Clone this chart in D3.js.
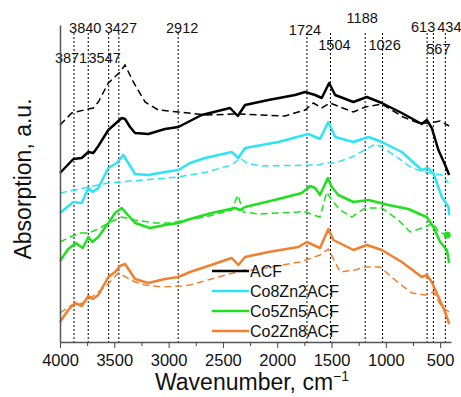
<!DOCTYPE html>
<html>
<head>
<meta charset="utf-8">
<script src="https://cdn.jsdelivr.net/npm/d3@7"></script>
<style>
  html, body { margin: 0; padding: 0; background: #fff; }
  svg { display: block; font-family: Arial, 'Liberation Sans', sans-serif; }
</style>
</head>
<body>
<svg id="chart" width="461" height="397"></svg>
<script>
// series: [wavenumber, absorption a.u.] (solid = sample, dashed = second spectrum)
const seriesNames = ['ACF', 'Co8Zn2ACF', 'Co5Zn5ACF', 'Co2Zn8ACF'];

const acfSolid = [[4000,1.69],[3877,1.83],[3800,1.84],[3739,1.90],[3693,1.89],[3647,1.96],[3555,2.12],[3493,2.18],
  [3432,2.24],[3401,2.23],[3355,2.15],[3309,2.09],[3187,2.08],[3033,2.13],[2910,2.15],[2803,2.21],[2695,2.27],
  [2434,2.34],[2363,2.26],[2296,2.37],[2081,2.42],[1836,2.47],[1743,2.50],[1651,2.47],[1590,2.44],[1522,2.59],
  [1467,2.47],[1299,2.40],[1175,2.45],[1037,2.39],[853,2.29],[669,2.18],[623,2.22],[577,2.14],[516,1.92],
  [454,1.77],[417,1.67]];
const acfDashed = [[4000,2.17],[3892,2.29],[3739,2.33],[3693,2.34],[3647,2.40],[3555,2.59],[3447,2.70],[3401,2.77],
  [3325,2.60],[3217,2.40],[3095,2.32],[2910,2.30],[2649,2.27],[2358,2.28],[1928,2.26],[1743,2.32],[1667,2.39],
  [1590,2.34],[1513,2.39],[1421,2.35],[1299,2.30],[1191,2.35],[1037,2.38],[841,2.25],[700,2.19],[608,2.19],
  [500,2.21],[417,2.16]];

const co8Solid = [[4000,1.29],[3877,1.40],[3800,1.39],[3739,1.54],[3699,1.50],[3647,1.54],[3555,1.74],[3478,1.79],
  [3417,1.87],[3309,1.68],[3187,1.67],[3033,1.70],[2910,1.72],[2803,1.79],[2664,1.84],[2419,1.90],[2358,1.84],
  [2296,1.94],[1989,2.00],[1713,2.08],[1606,2.03],[1529,2.20],[1467,2.05],[1299,2.00],[1160,2.05],[1037,2.00],
  [853,1.90],[669,1.72],[613,1.74],[562,1.69],[485,1.45],[423,1.35],[417,1.27]];
const co8Dashed = [[4000,1.49],[3862,1.52],[3739,1.55],[3555,1.59],[3340,1.61],[2910,1.65],[2649,1.70],[2419,1.77],
  [2342,1.84],[2280,1.79],[2158,1.76],[1621,1.77],[1559,1.79],[1467,1.79],[1313,1.85],[1191,1.92],[1099,1.98],
  [1037,1.95],[899,1.85],[761,1.74],[638,1.70],[485,1.67],[423,1.59]];

const co5Solid = [[4000,0.81],[3924,0.93],[3855,0.99],[3791,0.94],[3739,1.05],[3702,1.00],[3647,1.05],[3555,1.19],
  [3493,1.29],[3432,1.34],[3309,1.19],[3171,1.14],[3033,1.17],[2910,1.19],[2803,1.23],[2603,1.29],[2388,1.34],
  [2342,1.32],[2296,1.35],[1989,1.43],[1774,1.49],[1697,1.56],[1651,1.54],[1606,1.47],[1534,1.64],[1498,1.55],
  [1437,1.47],[1299,1.40],[1160,1.42],[976,1.37],[792,1.33],[669,1.27],[623,1.25],[562,1.15],[500,1.00],
  [438,0.92],[417,0.79]];
const co5Dashed = [[4000,1.00],[3908,1.05],[3816,1.09],[3739,1.09],[3647,1.13],[3555,1.19],[3432,1.25],[3309,1.22],
  [3125,1.19],[2971,1.19],[2803,1.23],[2664,1.25],[2419,1.32],[2363,1.47],[2312,1.30],[2174,1.28],[1805,1.30],
  [1759,1.31],[1667,1.27],[1606,1.25],[1544,1.50],[1498,1.42],[1421,1.32],[1313,1.25],[1191,1.34],[1037,1.34],
  [884,1.22],[776,1.10],[638,1.15],[562,1.19],[516,1.10],[435,1.07]];

const co2Solid = [[4000,0.20],[3924,0.32],[3862,0.39],[3800,0.36],[3739,0.46],[3699,0.43],[3647,0.47],[3555,0.65],
  [3493,0.70],[3447,0.76],[3401,0.78],[3309,0.63],[3187,0.59],[3033,0.63],[2910,0.65],[2803,0.70],[2664,0.75],
  [2419,0.84],[2358,0.77],[2296,0.85],[2081,0.90],[1805,0.95],[1728,1.00],[1606,0.94],[1529,1.13],[1483,1.02],
  [1299,0.92],[1175,0.97],[1037,0.92],[853,0.80],[669,0.65],[623,0.67],[577,0.60],[516,0.45],[454,0.30],
  [417,0.18]];
const co2Dashed = [[4000,0.29],[3892,0.37],[3785,0.39],[3708,0.45],[3586,0.55],[3463,0.69],[3309,0.60],[3217,0.57],
  [3063,0.55],[2879,0.56],[2803,0.57],[2542,0.65],[2296,0.72],[2220,0.72],[1790,0.80],[1606,0.87],[1530,0.93],
  [1421,0.70],[1359,0.71],[1283,0.72],[1191,0.75],[1053,0.75],[915,0.62],[761,0.49],[638,0.47],[562,0.50],
  [485,0.35],[417,0.30]];

// stray marker on the Co5Zn5 dashed trace
const co5Marker = [435, 1.07];

// marked bands
const peakLabels = ['3871', '3840', '3547', '3427', '2912', '1724', '1504', '1188', '1026', '613', '567', '434'];
const peakLines = [3871, 3740, 3552, 3458, 2912, 1726, 1510, 1190, 1030, 620, 562, 452];

const majorTicks = [4000, 3500, 3000, 2500, 2000, 1500, 1000, 500];
const minorTicks = [3750, 3250, 2750, 2250, 1750, 1250, 750];

// layout
const colors = ['#000000', '#2de4f4', '#1fe01f', '#f08030'];
const solids = [acfSolid, co8Solid, co5Solid, co2Solid];
const dashes = [acfDashed, co8Dashed, co5Dashed, co2Dashed];
// label rows (baseline y) and small x nudges
const labelBaseline = [63, 33, 63, 33, 33, 35, 50, 23, 50, 32, 54, 32];
const labelNudge = [-3, -3, -4, 2, 4, -2, 4, -3, 2, -4, 5, 4];

const svg = d3.select('#chart');
const plotLeft = 60, plotRight = 451, plotTop = 25, plotBottom = 342;

const x = d3.scaleLinear().domain([4000, 400]).range([plotLeft, plotRight]);
const y = d3.scaleLinear().domain([0, 3.17]).range([plotBottom, plotTop]);

// dotted band lines
svg.append('g')
  .selectAll('line')
  .data(peakLines)
  .enter()
  .append('line')
  .attr('x1', d => x(d)).attr('x2', d => x(d))
  .attr('y1', 33).attr('y2', plotBottom)
  .attr('stroke', '#000')
  .attr('stroke-width', 1)
  .attr('stroke-dasharray', '2,2');

const line = d3.line()
  .x(d => x(d[0]))
  .y(d => y(d[1]));

// dashed traces under, solid on top
svg.append('g')
  .selectAll('path')
  .data(dashes)
  .enter()
  .append('path')
  .attr('d', line)
  .attr('fill', 'none')
  .attr('stroke', (d, i) => colors[i])
  .attr('stroke-width', 1.5)
  .attr('stroke-dasharray', '7,4');

svg.append('g')
  .selectAll('path')
  .data(solids)
  .enter()
  .append('path')
  .attr('d', line)
  .attr('fill', 'none')
  .attr('stroke', (d, i) => colors[i])
  .attr('stroke-width', 2.5)
  .attr('stroke-linejoin', 'round');

svg.append('circle')
  .attr('cx', x(co5Marker[0]))
  .attr('cy', y(co5Marker[1]))
  .attr('r', 3.5)
  .attr('fill', colors[2]);

// peak labels
svg.append('g')
  .selectAll('text')
  .data(peakLabels)
  .enter()
  .append('text')
  .attr('x', (d, i) => x(peakLines[i]) + labelNudge[i])
  .attr('y', (d, i) => labelBaseline[i])
  .attr('text-anchor', 'middle')
  .style('font-size', '14.5px')
  .attr('fill', '#111')
  .text(d => d);

// axes
const xAxis = svg.append('g')
  .attr('transform', 'translate(0,' + plotBottom + ')')
  .call(d3.axisBottom(x).tickValues(majorTicks).tickFormat(d3.format('d'))
    .tickSize(6).tickSizeOuter(0).tickPadding(6));
xAxis.selectAll('text').style('font-size', '16.5px').attr('fill', '#111');

const xMinor = svg.append('g')
  .attr('transform', 'translate(0,' + plotBottom + ')')
  .call(d3.axisBottom(x).tickValues(minorTicks).tickSize(4).tickSizeOuter(0).tickFormat(''));
xMinor.select('.domain').remove();

svg.append('g')
  .attr('transform', 'translate(' + plotLeft + ',0)')
  .call(d3.axisLeft(y).tickValues([]).tickSizeOuter(0));

svg.selectAll('.domain').attr('stroke', '#555').attr('stroke-width', 1.5);
svg.selectAll('.tick line').attr('stroke', '#444');

// axis titles
const xTitle = svg.append('text')
  .attr('x', 252)
  .attr('y', 390)
  .attr('text-anchor', 'middle')
  .style('font-size', '23px')
  .attr('fill', '#111');
xTitle.append('tspan').text('Wavenumber, cm');
xTitle.append('tspan').attr('dy', -9).style('font-size', '14px').text('\u22121');

svg.append('text')
  .attr('transform', 'translate(31,179) rotate(-90)')
  .attr('text-anchor', 'middle')
  .style('font-size', '23px')
  .attr('fill', '#111')
  .text('Absorption, a.u.');

// legend
const legend = svg.append('g')
  .selectAll('g')
  .data(seriesNames)
  .enter()
  .append('g')
  .attr('transform', (d, i) => 'translate(212,' + (271 + i * 20) + ')');

legend.append('line')
  .attr('x1', 0).attr('x2', 37)
  .attr('stroke', (d, i) => colors[i])
  .attr('stroke-width', 2.5);

legend.append('text')
  .attr('x', 38)
  .attr('y', 6)
  .style('font-size', '16px')
  .attr('fill', '#111')
  .text(d => d);
</script>
</body>
</html>
